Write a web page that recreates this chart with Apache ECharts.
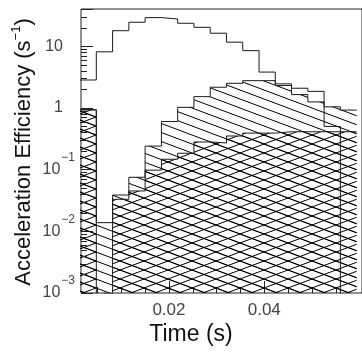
<!DOCTYPE html>
<html>
<head>
<meta charset="utf-8">
<script src="https://cdn.jsdelivr.net/npm/echarts@6/dist/echarts.min.js"></script>
<style>
html,body{margin:0;padding:0;background:#fff;}
#chart{width:362px;height:356px;}
</style>
</head>
<body>
<div id="chart"></div>
<script>
// ---- data ----
const EDGES = [0.00135, 0.00476, 0.00818, 0.01159, 0.01500, 0.01842, 0.02183, 0.02524, 0.02866,
               0.03207, 0.03548, 0.03890, 0.04231, 0.04572, 0.04914, 0.05255, 0.05596, 0.05938];
const OPEN  = [2.83, 8.1, 17.8, 24.4, 29, 27.6, 23.5, 20.2, 16.2, 11.6, 8.45, 3.8, 2.45, 2.08, 1.85, 0.5, 0];
const DIAG  = [0.93, 0.0138, 0.0387, 0.075, 0.24, 0.6, 1.02, 1.52, 2.16, 2.5, 2.76, 2.76, 2.3, 1.64, 1.25, 1.04, 0.92];
const CROSS = [0.93, 0, 0.033, 0.045, 0.098, 0.147, 0.184, 0.28, 0.27, 0.35, 0.39, 0.39, 0.41, 0.41, 0.41, 0.41, 0.41];
const X_MAJOR = [0.02, 0.04];
const X_MINOR = [0.005, 0.01, 0.015, 0.025, 0.03, 0.035, 0.045, 0.05, 0.055];
const Y_MINOR = [0.002,0.003,0.004,0.005,0.006,0.007,0.008,0.009,
                 0.02,0.03,0.04,0.05,0.06,0.07,0.08,0.09,
                 0.2,0.3,0.4,0.5,0.6,0.7,0.8,0.9,
                 2,3,4,5,6,7,8,9,20,30];
const XMIN = 0.00155, XMAX = 0.0605, YMIN = 0.001, YMAX = 40;
const FLOOR = 1e-6;
const FONT = 'Liberation Sans';

function stepData(vals) {
  return EDGES.map((e, i) => {
    const v = vals[Math.min(i, vals.length - 1)];
    return [e, v > 0 ? v : FLOOR];
  });
}

function hatchTile(cross) {
  const W = 24, H = 9;
  const c = document.createElement('canvas');
  c.width = W; c.height = H;
  const g = c.getContext('2d');
  g.strokeStyle = '#000';
  g.lineWidth = 1;
  g.beginPath();
  for (let k = -1; k <= 1; k++) {
    g.moveTo(0, k * H); g.lineTo(W, k * H + H);
    if (cross) { g.moveTo(0, k * H + H); g.lineTo(W, k * H); }
  }
  g.stroke();
  return c;
}

const chart = echarts.init(document.getElementById('chart'), null, {renderer: 'canvas'});

const lineCol = '#1a1a1a';
function histSeries(name, vals, pattern) {
  const s = {
    name: name,
    type: 'line',
    step: 'end',
    symbol: 'none',
    data: stepData(vals),
    lineStyle: {color: lineCol, width: 1},
    clip: true,
    silent: true,
    z: 3
  };
  if (pattern) {
    s.areaStyle = {origin: 'start', opacity: 1, color: {image: pattern, repeat: 'repeat'}};
  }
  return s;
}

function yLabel(v) {
  const l = Math.log10(v);
  const e = Math.round(l);
  if (Math.abs(l - e) > 1e-6) return '';
  if (e === 0) return '{m|1}';
  if (e === 1) return '{m|10}';
  return '{n|10}{e|\u2212' + (-e) + '}';
}

const option = {
  animation: false,
  backgroundColor: '#fff',
  grid: {left: 81, top: 9, width: 289, height: 284, show: true,
         borderColor: '#222', borderWidth: 1, backgroundColor: 'transparent'},
  xAxis: [
    {type: 'value', min: XMIN, max: XMAX, position: 'bottom',
     axisLine: {show: false}, splitLine: {show: false},
     axisTick: {show: true, inside: true, length: 12, customValues: X_MAJOR, lineStyle: {color: '#222'}},
     axisLabel: {show: true, customValues: X_MAJOR, margin: 9, fontSize: 17, fontFamily: FONT, color: '#444',
                 formatter: v => v.toFixed(2)}},
    {type: 'value', min: XMIN, max: XMAX, position: 'bottom',
     axisLine: {show: false}, splitLine: {show: false},
     axisTick: {show: true, inside: true, length: 6, customValues: X_MINOR, lineStyle: {color: '#222'}},
     axisLabel: {show: false}}
  ],
  yAxis: {
    type: 'log', logBase: 10, min: YMIN, max: YMAX,
    axisLine: {show: false}, splitLine: {show: false},
    axisTick: {show: true, inside: true, length: 12, lineStyle: {color: '#222'}},
    axisLabel: {
      margin: 6, formatter: yLabel,
      rich: {
        m: {fontSize: 16, fontFamily: FONT, color: '#444', padding: [0, 12, 0, 0], verticalAlign: 'middle'},
        n: {fontSize: 16, fontFamily: FONT, color: '#444', verticalAlign: 'middle'},
        e: {fontSize: 12, fontFamily: FONT, color: '#444', padding: [0, 0, 24, 1], verticalAlign: 'middle'}
      }
    }
  },
  graphic: [
    {type: 'text', x: 191, y: 335, silent: true,
     style: {text: 'Time (s)', fontSize: 23, fontFamily: FONT, fill: '#111', align: 'center', verticalAlign: 'middle'}},
    {type: 'text', x: 24, y: 152, rotation: Math.PI / 2, silent: true,
     style: {text: '{t|Acceleration Efficiency (s}{s|\u22121}{t|)}', align: 'center', verticalAlign: 'middle',
             rich: {t: {fontSize: 22, fontFamily: FONT, fill: '#111', verticalAlign: 'middle'},
                    s: {fontSize: 13, fontFamily: FONT, fill: '#111', padding: [0, 0, 16, 0], verticalAlign: 'middle'}}}}
  ],
  series: [
    histSeries('diag', DIAG, hatchTile(false)),
    histSeries('cross', CROSS, hatchTile(true)),
    histSeries('open', OPEN, null),
    {
      type: 'custom', silent: true, z: 4,
      data: Y_MINOR.map(v => [XMIN, v]),
      encode: {x: 0, y: 1},
      clip: false,
      renderItem: function (params, api) {
        const p = api.coord([api.value(0), api.value(1)]);
        const y = Math.round(p[1]) + 0.5;
        return {type: 'line', shape: {x1: p[0], y1: y, x2: p[0] + 6, y2: y},
                style: {stroke: '#222', lineWidth: 1}};
      }
    }
  ]
};
chart.setOption(option);
</script>
</body>
</html>
